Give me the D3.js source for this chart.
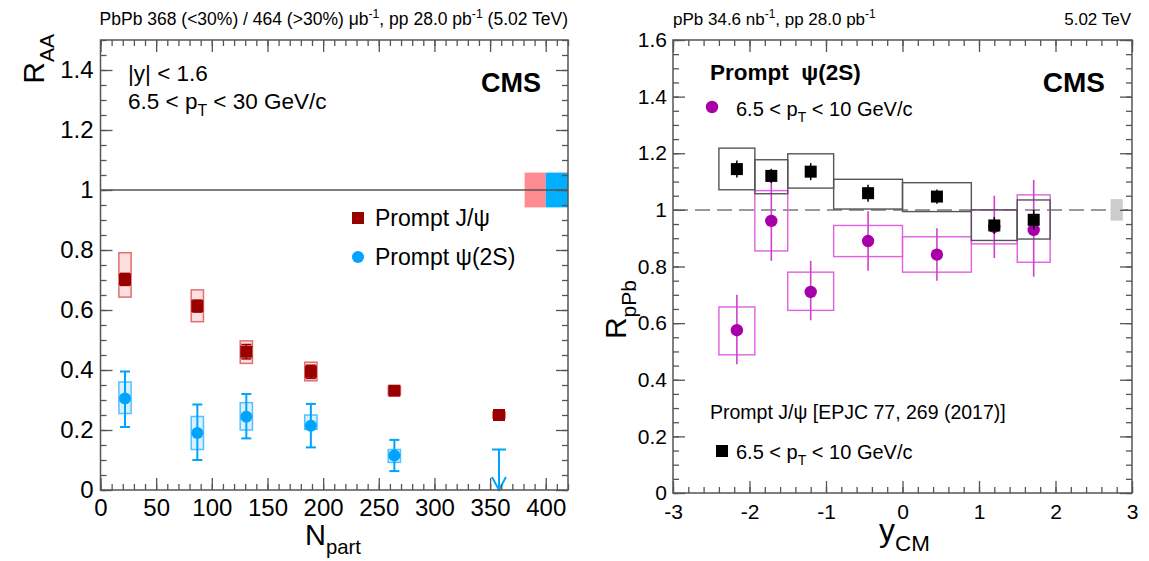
<!DOCTYPE html>
<html><head><meta charset="utf-8">
<script src="https://cdn.jsdelivr.net/npm/d3@7"></script>
<style>body{margin:0;background:#fff} text{font-family:"Liberation Sans",Arial,Helvetica,sans-serif}</style>
</head><body><svg id="c" width="1149" height="561"></svg>
<script>
// ---------- Left panel data (R_AA vs Npart) ----------
const npartJpsi = [22, 87, 131, 189, 264, 358];
const jpsiRAA = [0.702, 0.613, 0.461, 0.394, 0.331, 0.250];
const jpsiStat = [0.020, 0.020, 0.024, 0.022, 0.012, 0.008];
const jpsiSystLo = [0.643, 0.561, 0.422, 0.364, 0.318, 0.240];
const jpsiSystHi = [0.791, 0.667, 0.497, 0.426, 0.345, 0.260];
const npartPsi = [22, 87, 131, 189, 264];
const psiRAA = [0.305, 0.190, 0.244, 0.214, 0.115];
const psiStatLo = [0.210, 0.100, 0.172, 0.142, 0.063];
const psiStatHi = [0.395, 0.285, 0.320, 0.287, 0.167];
const psiSystLo = [0.255, 0.135, 0.200, 0.202, 0.092];
const psiSystHi = [0.360, 0.245, 0.291, 0.250, 0.135];
const psiLimitNpart = 358, psiLimit = 0.135;
const globalJpsi = [381, 400, 0.942, 1.058];
const globalPsi = [400, 420, 0.942, 1.058];
const leftXTicks = [0, 50, 100, 150, 200, 250, 300, 350, 400];
const leftYTicks = [0, 0.2, 0.4, 0.6, 0.8, 1, 1.2, 1.4];

// ---------- Right panel data (R_pPb vs y_CM) ----------
const binLo = [-2.4, -1.93, -1.5, -0.9, 0, 0.9, 1.5];
const binHi = [-1.93, -1.5, -0.9, 0, 0.9, 1.5, 1.93];
const yCM = [-2.165, -1.715, -1.2, -0.45, 0.45, 1.2, 1.715];
const jpsiRpPb = [1.144, 1.120, 1.135, 1.059, 1.047, 0.945, 0.965];
const jpsiStatR = [0.030, 0.025, 0.030, 0.030, 0.025, 0.030, 0.035];
const jpsiSystLoR = [1.071, 1.057, 1.077, 1.003, 0.994, 0.892, 0.897];
const jpsiSystHiR = [1.218, 1.177, 1.198, 1.108, 1.096, 1.000, 1.035];
const psiRpPb = [0.575, 0.961, 0.710, 0.890, 0.842, 0.940, 0.929];
const psiStatLoR = [0.455, 0.820, 0.610, 0.785, 0.750, 0.830, 0.764];
const psiStatHiR = [0.700, 1.100, 0.820, 0.995, 0.935, 1.050, 1.106];
const psiSystLoR = [0.488, 0.855, 0.645, 0.835, 0.780, 0.880, 0.815];
const psiSystHiR = [0.657, 1.068, 0.780, 0.945, 0.905, 1.000, 1.053];
const globalR = [2.72, 2.88, 0.962, 1.038];
const rightXTicks = [-3, -2, -1, 0, 1, 2, 3];
const rightYTicks = [0, 0.2, 0.4, 0.6, 0.8, 1, 1.2, 1.4, 1.6];

const svg = d3.select("#c");
svg.append("rect").attr("width",1149).attr("height",561).attr("fill","#fff");
const AX = "#555";

function rich(g, x, y, parts, size, o = {}) {
  const t = g.append("text").attr("x", x).attr("y", y).attr("font-size", size)
    .attr("text-anchor", o.anchor || "start").attr("fill", o.fill || "#000");
  if (o.bold) t.attr("font-weight", "bold");
  if (o.rotate) t.attr("transform", `rotate(-90,${x},${y})`);
  let shift = 0;
  parts.forEach(p => {
    const s = t.append("tspan").text(p.t);
    const target = p.sub ? size * 0.32 : p.sup ? -size * 0.42 : 0;
    if (target - shift !== 0) s.attr("dy", target - shift);
    shift = target;
    if (p.sub || p.sup) s.attr("font-size", size * (p.scale || 0.7));
  });
  return t;
}

function frame(g, x, y, xt, xMinor, yt, yMinor, xfmt, yfmt, fs, xpad, ypad) {
  const [x0, x1] = x.range(), [y1, y0] = y.range();
  const style = a => { a.selectAll("line").attr("stroke", AX).attr("stroke-width", 1.3); a.select(".domain").remove(); };
  const bot = g.append("g").attr("transform", `translate(0,${y1})`)
    .call(d3.axisBottom(x).tickValues(xt).tickSize(-12).tickSizeOuter(0).tickPadding(xpad).tickFormat(xfmt));
  style(bot); bot.selectAll("text").attr("font-size", fs).attr("fill", "#000").attr("font-family", null);
  const botm = g.append("g").attr("transform", `translate(0,${y1})`)
    .call(d3.axisBottom(x).tickValues(xMinor).tickSize(-6).tickFormat(""));
  style(botm);
  const top = g.append("g").attr("transform", `translate(0,${y0})`)
    .call(d3.axisTop(x).tickValues(xt).tickSize(-12).tickFormat(""));
  style(top);
  const topm = g.append("g").attr("transform", `translate(0,${y0})`)
    .call(d3.axisTop(x).tickValues(xMinor).tickSize(-6).tickFormat(""));
  style(topm);
  const lef = g.append("g").attr("transform", `translate(${x0},0)`)
    .call(d3.axisLeft(y).tickValues(yt).tickSize(-12).tickSizeOuter(0).tickPadding(ypad).tickFormat(yfmt));
  style(lef); lef.selectAll("text").attr("font-size", fs).attr("fill", "#000").attr("font-family", null);
  const lefm = g.append("g").attr("transform", `translate(${x0},0)`)
    .call(d3.axisLeft(y).tickValues(yMinor).tickSize(-6).tickFormat(""));
  style(lefm);
  const rig = g.append("g").attr("transform", `translate(${x1},0)`)
    .call(d3.axisRight(y).tickValues(yt).tickSize(-12).tickFormat(""));
  style(rig);
  const rigm = g.append("g").attr("transform", `translate(${x1},0)`)
    .call(d3.axisRight(y).tickValues(yMinor).tickSize(-6).tickFormat(""));
  style(rigm);
  g.append("rect").attr("x", x0).attr("y", y0).attr("width", x1 - x0).attr("height", y1 - y0)
    .attr("fill", "none").attr("stroke", AX).attr("stroke-width", 1.5);
}
const numFmt = d => d === 0 ? "0" : String(Math.round(d * 10) / 10);

// ================= LEFT PANEL =================
const xL = d3.scaleLinear().domain([0, 420]).range([100.5, 568]);
const yL = d3.scaleLinear().domain([0, 1.5]).range([490, 40]);
const gL = svg.append("g");

const jpsiC = "#990000", jpsiBoxF = "rgba(255,90,90,0.2)", jpsiBoxS = "#e07070";
const psiC = "#00a4ff", psiBoxF = "rgba(0,164,255,0.15)", psiBoxS = "#55c0ff";

// global uncertainty boxes
gL.append("rect").attr("x", xL(globalJpsi[0])).attr("width", xL(globalJpsi[1]) - xL(globalJpsi[0]))
  .attr("y", yL(globalJpsi[3])).attr("height", yL(globalJpsi[2]) - yL(globalJpsi[3])).attr("fill", "#ff8a90");
gL.append("rect").attr("x", xL(globalPsi[0])).attr("width", xL(globalPsi[1]) - xL(globalPsi[0]))
  .attr("y", yL(globalPsi[3])).attr("height", yL(globalPsi[2]) - yL(globalPsi[3])).attr("fill", "#00b0ff");
gL.append("line").attr("x1", xL(0)).attr("x2", xL(420)).attr("y1", yL(1)).attr("y2", yL(1))
  .attr("stroke", "#555").attr("stroke-width", 1.5);

const bwL = 5.5;
npartJpsi.forEach((n, i) => {
  gL.append("rect").attr("x", xL(n - bwL)).attr("width", xL(n + bwL) - xL(n - bwL))
    .attr("y", yL(jpsiSystHi[i])).attr("height", yL(jpsiSystLo[i]) - yL(jpsiSystHi[i]))
    .attr("fill", jpsiBoxF).attr("stroke", jpsiBoxS).attr("stroke-width", 1.5);
});
npartPsi.forEach((n, i) => {
  gL.append("rect").attr("x", xL(n - bwL)).attr("width", xL(n + bwL) - xL(n - bwL))
    .attr("y", yL(psiSystHi[i])).attr("height", yL(psiSystLo[i]) - yL(psiSystHi[i]))
    .attr("fill", psiBoxF).attr("stroke", psiBoxS).attr("stroke-width", 1.5);
});
npartPsi.forEach((n, i) => {
  const cx = xL(n);
  gL.append("line").attr("x1", cx).attr("x2", cx).attr("y1", yL(psiStatLo[i])).attr("y2", yL(psiStatHi[i]))
    .attr("stroke", psiC).attr("stroke-width", 2);
  [psiStatLo[i], psiStatHi[i]].forEach(v => gL.append("line").attr("x1", cx - 5).attr("x2", cx + 5)
    .attr("y1", yL(v)).attr("y2", yL(v)).attr("stroke", psiC).attr("stroke-width", 2));
});
npartPsi.forEach((n, i) => gL.append("circle").attr("cx", xL(n)).attr("cy", yL(psiRAA[i])).attr("r", 6).attr("fill", psiC));
{
  const cx = xL(psiLimitNpart);
  gL.append("line").attr("x1", cx).attr("x2", cx).attr("y1", yL(psiLimit)).attr("y2", yL(0)).attr("stroke", psiC).attr("stroke-width", 2);
  gL.append("line").attr("x1", cx - 7).attr("x2", cx + 7).attr("y1", yL(psiLimit)).attr("y2", yL(psiLimit)).attr("stroke", psiC).attr("stroke-width", 2);
  gL.append("path").attr("d", `M${cx - 7},${yL(0) - 13}L${cx},${yL(0)}L${cx + 7},${yL(0) - 13}`)
    .attr("fill", "none").attr("stroke", psiC).attr("stroke-width", 2);
}
npartJpsi.forEach((n, i) => {
  const cx = xL(n);
  [jpsiRAA[i] - jpsiStat[i], jpsiRAA[i] + jpsiStat[i]].forEach(v => gL.append("line").attr("x1", cx - 5).attr("x2", cx + 5)
    .attr("y1", yL(v)).attr("y2", yL(v)).attr("stroke", jpsiC).attr("stroke-width", 1.5));
  gL.append("line").attr("x1", cx).attr("x2", cx).attr("y1", yL(jpsiRAA[i] - jpsiStat[i])).attr("y2", yL(jpsiRAA[i] + jpsiStat[i]))
    .attr("stroke", jpsiC).attr("stroke-width", 1.5);
  gL.append("rect").attr("x", cx - 6).attr("y", yL(jpsiRAA[i]) - 6).attr("width", 12).attr("height", 12).attr("fill", jpsiC);
});

frame(gL, xL, yL, leftXTicks, d3.range(0, 421, 10), leftYTicks, d3.range(0, 1.501, 0.05), d => String(d), numFmt, 24, 9, 7);

rich(gL, 568, 25, [{t:"PbPb 368 (<30%) / 464 (>30%) μb"},{t:"-1",sup:true},{t:", pp 28.0 pb"},{t:"-1",sup:true},{t:" (5.02 TeV)"}], 17.5, {anchor:"end"});
rich(gL, 128, 81, [{t:"|y| < 1.6"}], 22.5);
rich(gL, 128, 109, [{t:"6.5 < p"},{t:"T",sub:true},{t:" < 30 GeV/c"}], 22.5);
rich(gL, 541, 92, [{t:"CMS"}], 27, {anchor:"end", bold:true});
gL.append("rect").attr("x", 352).attr("y", 212).attr("width", 12).attr("height", 12).attr("fill", jpsiC);
rich(gL, 375, 226, [{t:"Prompt J/ψ"}], 23);
gL.append("circle").attr("cx", 358).attr("cy", 257).attr("r", 6).attr("fill", psiC);
rich(gL, 375, 265, [{t:"Prompt ψ(2S)"}], 23);
rich(gL, 44, 34, [{t:"R"},{t:"AA",sub:true}], 30, {anchor:"end", rotate:true});
rich(gL, 305, 545, [{t:"N"},{t:"part",sub:true}], 29);

// ================= RIGHT PANEL =================
const xR = d3.scaleLinear().domain([-3, 3]).range([673, 1132]);
const yR = d3.scaleLinear().domain([0, 1.6]).range([493, 40]);
const gR = svg.append("g");
const magC = "#a800a8", magLine = "#d040d0", magBox = "#e060e0";

gR.append("line").attr("x1", xR(-3)).attr("x2", xR(3)).attr("y1", yR(1)).attr("y2", yR(1))
  .attr("stroke", "#999").attr("stroke-width", 2).attr("stroke-dasharray", "15,7");
gR.append("rect").attr("x", xR(globalR[0])).attr("width", xR(globalR[1]) - xR(globalR[0]))
  .attr("y", yR(globalR[3])).attr("height", yR(globalR[2]) - yR(globalR[3])).attr("fill", "#cccccc");

yCM.forEach((c, i) => {
  gR.append("rect").attr("x", xR(binLo[i])).attr("width", xR(binHi[i]) - xR(binLo[i]))
    .attr("y", yR(psiSystHiR[i])).attr("height", yR(psiSystLoR[i]) - yR(psiSystHiR[i]))
    .attr("fill", "none").attr("stroke", magBox).attr("stroke-width", 1.4);
  gR.append("line").attr("x1", xR(c)).attr("x2", xR(c)).attr("y1", yR(psiStatLoR[i])).attr("y2", yR(psiStatHiR[i]))
    .attr("stroke", magLine).attr("stroke-width", 1.6);
  gR.append("circle").attr("cx", xR(c)).attr("cy", yR(psiRpPb[i])).attr("r", 6.2).attr("fill", magC);
});
yCM.forEach((c, i) => {
  gR.append("rect").attr("x", xR(binLo[i])).attr("width", xR(binHi[i]) - xR(binLo[i]))
    .attr("y", yR(jpsiSystHiR[i])).attr("height", yR(jpsiSystLoR[i]) - yR(jpsiSystHiR[i]))
    .attr("fill", "none").attr("stroke", "#555").attr("stroke-width", 1.4);
  gR.append("line").attr("x1", xR(c)).attr("x2", xR(c)).attr("y1", yR(jpsiRpPb[i] - jpsiStatR[i])).attr("y2", yR(jpsiRpPb[i] + jpsiStatR[i]))
    .attr("stroke", "#000").attr("stroke-width", 1.5);
  gR.append("rect").attr("x", xR(c) - 6).attr("y", yR(jpsiRpPb[i]) - 6).attr("width", 12).attr("height", 12).attr("fill", "#000");
});

frame(gR, xR, yR, rightXTicks, d3.range(-3, 3.001, 0.2).map(v => Math.round(v * 10) / 10), rightYTicks, d3.range(0, 1.601, 0.05), d => String(d), numFmt, 21, 11, 6);

rich(gR, 673, 25, [{t:"pPb 34.6 nb"},{t:"-1",sup:true},{t:", pp 28.0 pb"},{t:"-1",sup:true}], 17);
rich(gR, 1131, 25, [{t:"5.02 TeV"}], 17, {anchor:"end"});
rich(gR, 710, 80, [{t:"Prompt\u00a0 ψ(2S)"}], 22.5, {bold:true});
gR.append("circle").attr("cx", 712).attr("cy", 107).attr("r", 6.2).attr("fill", magC);
rich(gR, 736, 116, [{t:"6.5 < p"},{t:"T",sub:true},{t:" < 10 GeV/c"}], 20);
rich(gR, 1105, 92, [{t:"CMS"}], 28, {anchor:"end", bold:true});
rich(gR, 710, 419, [{t:"Prompt J/ψ [EPJC 77, 269 (2017)]"}], 19.5);
gR.append("rect").attr("x", 716).attr("y", 445).attr("width", 12).attr("height", 12).attr("fill", "#000");
rich(gR, 736, 459, [{t:"6.5 < p"},{t:"T",sub:true},{t:" < 10 GeV/c"}], 20);
rich(gR, 626, 280, [{t:"R"},{t:"pPb",sub:true}], 30, {anchor:"end", rotate:true});
rich(gR, 879, 541, [{t:"y"},{t:"CM",sub:true}], 32);
</script></body></html>
